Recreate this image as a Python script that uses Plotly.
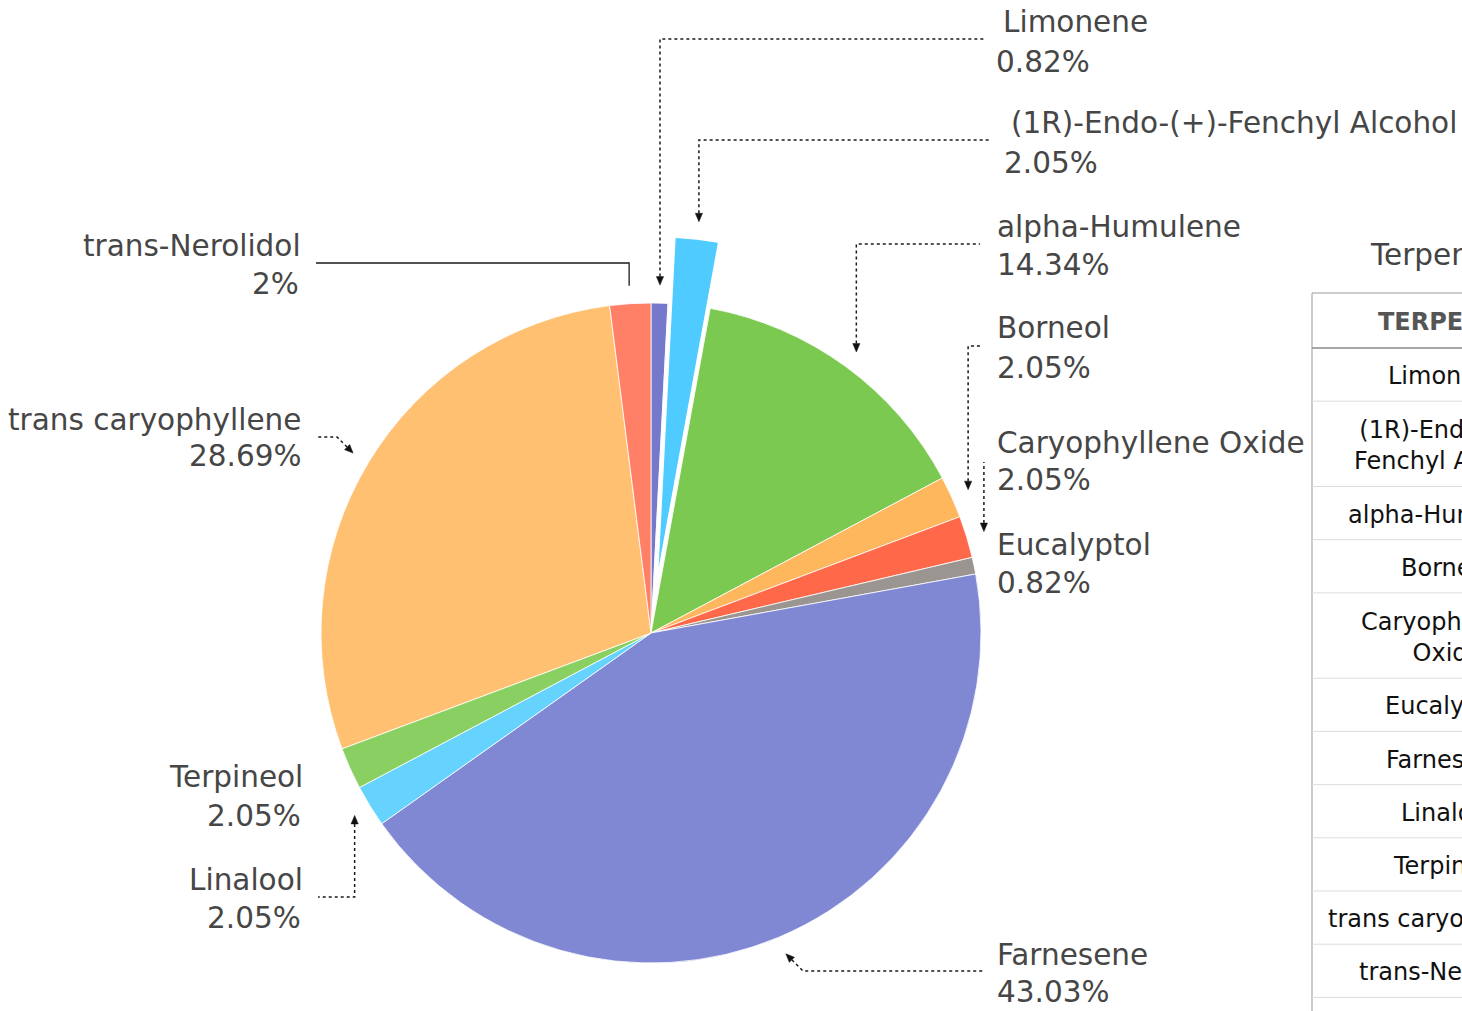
import math
import plotly.graph_objects as go

# ---------------- data ----------------
labels = ["Limonene", "(1R)-Endo-(+)-Fenchyl Alcohol", "alpha-Humulene", "Borneol",
          "Caryophyllene Oxide", "Eucalyptol", "Farnesene", "Linalool", "Terpineol",
          "trans caryophyllene", "trans-Nerolidol"]
values = [0.82, 2.05, 14.34, 2.05, 2.05, 0.82, 43.03, 2.05, 2.05, 28.69, 2]
colors = ["#7479cc", "#4fcbff", "#7cc952", "#ffb75e", "#ff6849", "#9a9591",
          "#8088d3", "#66d3ff", "#89cf62", "#ffc072", "#ff8066"]
table_title = "Terpenes Profile"
table_header = "TERPENES"
table_rows = ["Limonene", "(1R)-Endo-(+)-<br>Fenchyl Alcohol", "alpha-Humulene", "Borneol",
              "Caryophyllene<br>Oxide", "Eucalyptol", "Farnesene", "Linalool", "Terpineol",
              "trans caryophyllene", "trans-Nerolidol"]
pulled_index = 1
pull_frac = 0.2

# ---------------- layout constants (screen pixels) ----------------
W, H = 1462, 1011
OFF = 0          # page margin removed by post_script below
CX, CY, R = 651, 633, 330
ANCHOR_GAP = 18
FONT = "DejaVu Sans"
LABEL_SIZE = 29.5
LABEL_COLOR = "#464646"


def px(x):
    return (x - OFF) / W


def py(y):
    return 1 - (y - OFF) / H


total = sum(values)
mids = []
acc = 0.0
for v in values:
    mids.append((acc + v / 2.0) / total * 2 * math.pi)
    acc += v

pm = mids[pulled_index]
PCX = CX + pull_frac * R * math.sin(pm)
PCY = CY - pull_frac * R * math.cos(pm)

fig = go.Figure()

# main pie (pulled slice left transparent)
c1 = [("rgba(0,0,0,0)" if i == pulled_index else c) for i, c in enumerate(colors)]
fig.add_trace(go.Pie(
    labels=labels, values=values, sort=False, direction="clockwise", rotation=0,
    marker=dict(colors=c1, line=dict(color="white", width=0.8)),
    textinfo="none", hoverinfo="label+percent", showlegend=False,
    domain=dict(x=[px(CX - R), px(CX + R)], y=[py(CY + R), py(CY - R)]),
))
# pulled slice drawn as its own pie shifted outward
c2 = [(c if i == pulled_index else "rgba(0,0,0,0)") for i, c in enumerate(colors)]
fig.add_trace(go.Pie(
    labels=labels, values=values, sort=False, direction="clockwise", rotation=0,
    marker=dict(colors=c2, line=dict(color="white", width=0)),
    textinfo="none", hoverinfo="skip", showlegend=False,
    domain=dict(x=[px(PCX - R), px(PCX + R)], y=[py(PCY + R), py(PCY - R)]),
))

# label placement (screen pixels)
label_pos = {
    0: dict(name=(1002, 22), val=(995, 62), side="r", style="elbow", ly=39, ex=985),
    1: dict(name=(1010, 123), val=(1003, 163), side="r", style="elbow", ly=140, ex=990),
    2: dict(name=(996, 227), val=(996, 265), side="r", style="elbow", ly=244, ex=980),
    3: dict(name=(996, 328), val=(996, 368), side="r", style="elbow", ly=346, ex=982),
    4: dict(name=(996, 443), val=(996, 480), side="r", style="elbow", ly=462, ex=None),
    5: dict(name=(996, 545), val=(996, 583), side="r", style=None),
    6: dict(name=(996, 955), val=(996, 992), side="r", style="diag", ly=971, ex=983),
    7: dict(name=(304, 880), val=(302, 918), side="l", style="elbow", ly=897, ex=318),
    8: dict(name=(304, 777), val=(302, 816), side="l", style=None),
    9: dict(name=(302, 420), val=(302, 456), side="l", style="diag", ly=437, ex=318),
    10: dict(name=(302, 246), val=(300, 284), side="l", style="solid", ly=263, ex=316),
}

shapes = []
annotations = []


def pct_text(v):
    return f"{v:g}%"


for i, lab in enumerate(labels):
    cfg = label_pos[i]
    xa = "left" if cfg["side"] == "r" else "right"
    for txt, (x, y) in ((lab, cfg["name"]), (pct_text(values[i]), cfg["val"])):
        annotations.append(dict(
            x=px(x), y=py(y), xref="paper", yref="paper", text=txt, showarrow=False,
            xanchor=xa, yanchor="middle", borderpad=0,
            font=dict(family=FONT, size=LABEL_SIZE, color=LABEL_COLOR)))
    st = cfg["style"]
    if st is None:
        continue
    ccx, ccy = (PCX, PCY) if i == pulled_index else (CX, CY)
    ax = ccx + (R + ANCHOR_GAP) * math.sin(mids[i])
    ay = ccy - (R + ANCHOR_GAP) * math.cos(mids[i])
    ly = cfg["ly"]
    ex = cfg["ex"] if cfg["ex"] is not None else ax
    if st == "diag":
        s = 1 if cfg["side"] == "r" else -1
        p1 = (ax + s * abs(ly - ay), ly)
    else:
        p1 = (ax, ly)
    pts = [(ax, ay), p1, (ex, ly)]
    if st == "solid":
        d = "M " + " L ".join(f"{px(a):.6f} {py(b):.6f}" for a, b in pts)
        shapes.append(dict(type="path", path=d, xref="paper", yref="paper",
                           line=dict(color="#1a1a1a", width=1.3)))
        continue
    # arrowhead at the anchor pointing toward the slice
    ux, uy = p1[0] - ax, p1[1] - ay
    L = math.hypot(ux, uy)
    ux, uy = ux / L, uy / L
    alen, aw = 8.5, 3.6
    bx, by = ax + alen * ux, ay + alen * uy
    nx, ny = -uy, ux
    tri = [(ax, ay), (bx + aw * nx, by + aw * ny), (bx - aw * nx, by - aw * ny)]
    d = "M " + " L ".join(f"{px(a):.6f} {py(b):.6f}" for a, b in tri) + " Z"
    shapes.append(dict(type="path", path=d, xref="paper", yref="paper",
                       fillcolor="#111111", line=dict(color="#111111", width=0.5)))
    lpts = [(bx, by), p1, (ex, ly)]
    d = "M " + " L ".join(f"{px(a):.6f} {py(b):.6f}" for a, b in lpts)
    shapes.append(dict(type="path", path=d, xref="paper", yref="paper",
                       line=dict(color="#1a1a1a", width=1.5, dash="3px,3px")))

# ---------------- table (clipped at the right edge) ----------------
TX0 = 1312
TX1 = 1700
TCOL = 1447
T_TOP = 293
T_HEAD = 348
ROW1 = 53.2
ROW2 = 85.3
TABLE_SIZE = 24

annotations.append(dict(
    x=px(1369), y=py(255), xref="paper", yref="paper", text=table_title, showarrow=False,
    xanchor="left", yanchor="middle", borderpad=0,
    font=dict(family=FONT, size=LABEL_SIZE, color="#444444")))
annotations.append(dict(
    x=px(TCOL), y=py((T_TOP + T_HEAD) / 2 + 1), xref="paper", yref="paper",
    text="<b>" + table_header + "</b>", showarrow=False, xanchor="center", yanchor="middle",
    font=dict(family=FONT, size=TABLE_SIZE, color="#555555")))

shapes.append(dict(type="line", xref="paper", yref="paper", x0=px(TX0), x1=px(TX1),
                   y0=py(T_TOP), y1=py(T_TOP), line=dict(color="#9a9a9a", width=1)))
shapes.append(dict(type="line", xref="paper", yref="paper", x0=px(TX0), x1=px(TX1),
                   y0=py(T_HEAD), y1=py(T_HEAD), line=dict(color="#8a8a8a", width=1.5)))
shapes.append(dict(type="line", xref="paper", yref="paper", x0=px(TX0), x1=px(TX0),
                   y0=py(T_TOP), y1=py(H + 20), line=dict(color="#9a9a9a", width=1)))

y = T_HEAD
for row in table_rows:
    h = ROW2 if "<br>" in row else ROW1
    annotations.append(dict(
        x=px(TCOL), y=py(y + h / 2 + 1.5), xref="paper", yref="paper", text=row,
        showarrow=False, xanchor="center", yanchor="middle", align="center",
        font=dict(family=FONT, size=TABLE_SIZE, color="#111111")))
    y += h
    shapes.append(dict(type="line", xref="paper", yref="paper", x0=px(TX0), x1=px(TX1),
                       y0=py(y), y1=py(y), line=dict(color="#dddddd", width=1)))

fig.update_layout(
    width=W, height=H, autosize=False,
    margin=dict(l=0, r=0, t=0, b=0),
    paper_bgcolor="white", plot_bgcolor="white",
    showlegend=False,
    shapes=shapes, annotations=annotations,
)

fig.write_html(
    "out.html",
    config={"displayModeBar": False},
    post_script=("document.body.style.margin='0';"
                 "document.body.style.overflow='hidden';"
                 "document.documentElement.style.overflow='hidden';"),
)
